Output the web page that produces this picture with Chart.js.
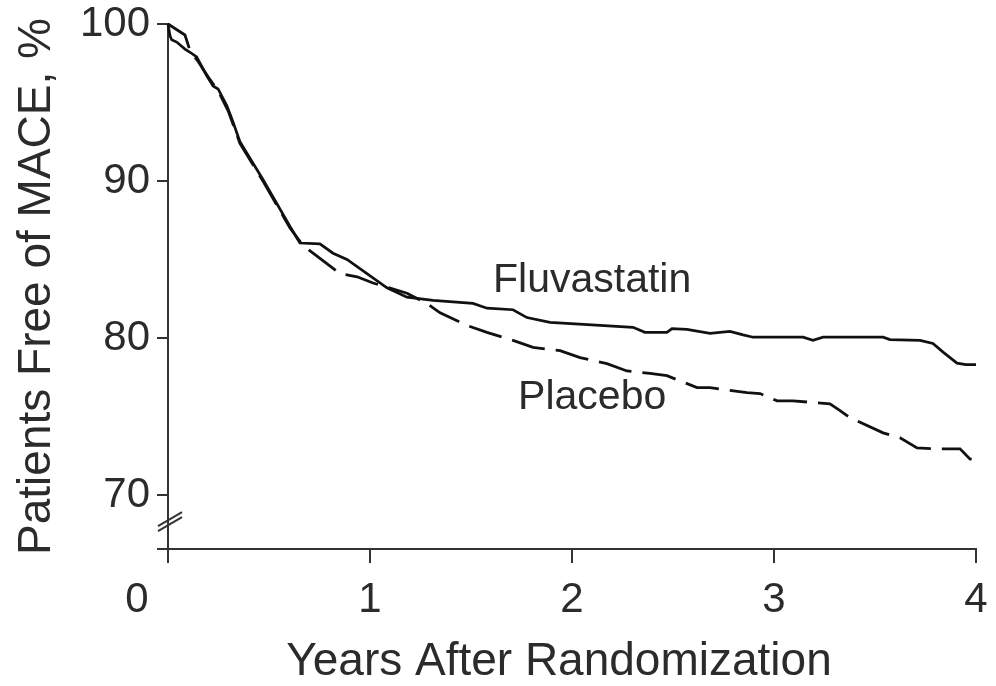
<!DOCTYPE html>
<html>
<head>
<meta charset="utf-8">
<script src="https://cdn.jsdelivr.net/npm/chart.js@4.4.1/dist/chart.umd.min.js"></script>
<style>
    html, body { margin: 0; padding: 0; background: #ffffff; }
    #wrap { width: 996px; height: 686px; }
</style>
</head>
<body>
<div id="wrap"><canvas id="mace" width="996" height="686"></canvas></div>
<script>
// ── Data ──────────────────────────────────────────────────────────────────────

const fluvaYears = [0, 0.01, 0.018, 0.043, 0.084, 0.109, 0.142, 0.192, 0.223, 0.248, 0.291, 0.322,
    0.356, 0.47, 0.604, 0.653, 0.752, 0.817, 0.886, 0.985, 1.084, 1.183, 1.312, 1.51, 1.579,
    1.708, 1.777, 1.891, 2.139, 2.302, 2.361, 2.47, 2.495, 2.569, 2.683, 2.782, 2.847, 2.896,
    3.144, 3.193, 3.243, 3.54, 3.574, 3.723, 3.787, 3.837, 3.906, 3.95, 4.0];
const fluvaPct = [100, 99.25, 99.0, 98.85, 98.4, 98.2, 97.9, 96.7, 96.05, 95.86, 94.8, 93.76,
    92.5, 90.1, 87.1, 86.05, 86.0, 85.4, 85.0, 84.1, 83.2, 82.6, 82.4, 82.2, 81.9,
    81.8, 81.3, 81.0, 80.8, 80.68, 80.36, 80.36, 80.6, 80.55, 80.3, 80.42, 80.2, 80.05,
    80.05, 79.85, 80.05, 80.05, 79.9, 79.85, 79.65, 79.1, 78.4, 78.3, 78.3];

const placeboYears = [0, 0.084, 0.109, 0.15, 0.2, 0.25, 0.3, 0.356, 0.47, 0.604, 0.668, 0.718,
    0.851, 0.936, 1.015, 1.183, 1.282, 1.347, 1.48, 1.579, 1.708, 1.807, 1.941, 2.04, 2.173,
    2.272, 2.386, 2.47, 2.619, 2.683, 2.866, 2.931, 3.015, 3.094, 3.277, 3.327, 3.376, 3.54,
    3.624, 3.708, 3.807, 3.921, 3.97, 4.0];
const placeboPct = [100, 99.3, 98.3, 97.6, 96.6, 95.7, 94.4, 92.4, 90.0, 87.0, 85.9, 85.4,
    84.1, 83.9, 83.5, 82.85, 82.2, 81.6, 80.8, 80.36, 79.85, 79.4, 79.2, 78.75, 78.37,
    77.9, 77.74, 77.6, 76.84, 76.84, 76.52, 76.46, 76.0, 76.0, 75.8, 75.37, 74.92, 73.96,
    73.64, 73.0, 72.94, 72.94, 72.3, 72.2];

const xTicks      = [0, 1, 2, 3, 4];
const xTickLabels = ['0', '1', '2', '3', '4'];
const yTicks      = [70, 80, 90, 100];
const yAxisMin    = 66.56;   // axis is broken below 70

const seriesNames = ['Fluvastatin', 'Placebo'];
const xTitle      = 'Years After Randomization';
const yTitle      = 'Patients Free of MACE, %';

// ── Helpers ───────────────────────────────────────────────────────────────────

const FONT = '"Liberation Sans", Arial, Helvetica, sans-serif';
const INK  = '#2b2b2b';
const AXIS = '#333333';

const toPoints = (xs, ys) => xs.map((x, i) => ({ x, y: ys[i] }));

// Inline plugin: x tick labels, x title, curve labels and the axis break mark
const decorPlugin = {
    id: 'kmDecor',
    afterDraw(chart) {
        const { ctx, scales: { x, y } } = chart;
        ctx.save();
        ctx.fillStyle = INK;
        ctx.font = '42px ' + FONT;
        ctx.textAlign = 'center';
        ctx.textBaseline = 'alphabetic';
        xTicks.forEach((v, i) => {
            // origin label sits left of the corner, like the original
            const shift = v === 0 ? -31 : 0;
            ctx.fillText(xTickLabels[i], x.getPixelForValue(v) + shift, 612);
        });

        ctx.font = '46px ' + FONT;
        ctx.fillText(xTitle, (x.left + x.right) / 2 - 13, 675);

        ctx.font = '41px ' + FONT;
        ctx.textAlign = 'left';
        ctx.fillText(seriesNames[0], x.getPixelForValue(1.609), y.getPixelForValue(82.95));
        ctx.fillText(seriesNames[1], x.getPixelForValue(1.733), y.getPixelForValue(75.5));

        // axis break: two short slanted strokes across the y axis
        const ax = x.left;
        const by = y.getPixelForValue(68.3);
        ctx.strokeStyle = AXIS;
        ctx.lineWidth = 2;
        [-2.5, 2.5].forEach(off => {
            ctx.beginPath();
            ctx.moveTo(ax - 10, by + off + 7);
            ctx.lineTo(ax + 14, by + off - 7);
            ctx.stroke();
        });
        ctx.restore();
    }
};

// ── Chart ─────────────────────────────────────────────────────────────────────

/* global Chart */
new Chart(document.getElementById('mace'), {
    type: 'line',
    data: {
        datasets: [
            {
                label: seriesNames[0],
                data: toPoints(fluvaYears, fluvaPct),
                borderColor: '#111111',
                borderWidth: 2.7,
                pointRadius: 0,
                tension: 0,
                fill: false,
                clip: false
            },
            {
                label: seriesNames[1],
                data: toPoints(placeboYears, placeboPct),
                borderColor: '#111111',
                borderWidth: 2.8,
                borderDash: [34, 11],
                pointRadius: 0,
                tension: 0,
                fill: false,
                clip: false
            }
        ]
    },
    options: {
        responsive: false,
        animation: false,
        layout: { padding: { top: 24, right: 20, left: 0, bottom: 0 } },
        plugins: {
            legend: { display: false },
            tooltip: { enabled: false }
        },
        scales: {
            x: {
                type: 'linear',
                min: 0,
                max: 4,
                afterFit: s => { s.height = 137; s.paddingLeft = 0; s.paddingRight = 0; },
                afterBuildTicks: s => { s.ticks = xTicks.map(v => ({ value: v })); },
                ticks: { display: false },
                grid: {
                    drawOnChartArea: false,
                    drawTicks: true,
                    tickLength: 14,
                    color: AXIS,
                    lineWidth: 2
                },
                border: { display: true, color: AXIS, width: 2 }
            },
            y: {
                type: 'linear',
                min: yAxisMin,
                max: 100,
                afterFit: s => { s.width = 168; s.paddingTop = 0; s.paddingBottom = 0; },
                // bottom tick (empty label) gives the short stub left of the corner
                afterBuildTicks: s => { s.ticks = [yAxisMin, ...yTicks].map(v => ({ value: v })); },
                ticks: {
                    color: INK,
                    padding: 7,
                    font: { family: FONT, size: 42 },
                    callback: v => (yTicks.includes(v) ? String(v) : '')
                },
                grid: {
                    drawOnChartArea: false,
                    drawTicks: true,
                    tickLength: 11,
                    color: AXIS,
                    lineWidth: 2
                },
                border: { display: true, color: AXIS, width: 2 },
                title: {
                    display: true,
                    text: yTitle,
                    color: INK,
                    font: { family: FONT, size: 46 },
                    padding: { top: 10, bottom: 0 }
                }
            }
        }
    },
    plugins: [decorPlugin]
});
</script>
</body>
</html>
